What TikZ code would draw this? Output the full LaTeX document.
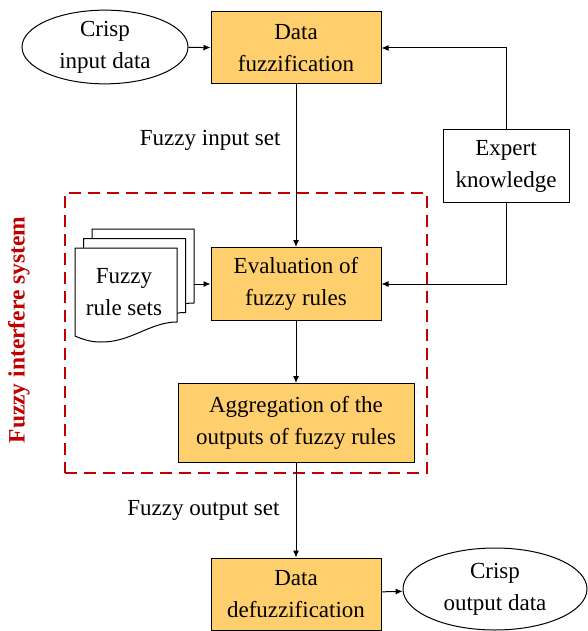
\documentclass[tikz,border=0pt]{standalone}
\usepackage{fontspec}
\setmainfont{Liberation Serif}
\usetikzlibrary{arrows.meta,positioning,calc,shapes.geometric}
\definecolor{boxfill}{HTML}{FFCF6E}
\definecolor{framered}{HTML}{C00000}

\begin{document}
\begin{tikzpicture}[
			x=1pt, y=-1pt,
			font=\fontsize{23}{32}\selectfont,
			block/.style={draw, line width=1pt, fill=boxfill, minimum width=170pt, minimum height=72pt, align=center, inner sep=2pt},
			oval/.style={draw, line width=1pt, ellipse, align=center, inner sep=0pt},
			plain/.style={draw, line width=1pt, fill=white, align=center, inner sep=2pt},
			sheet/.style={draw, line width=1pt, fill=white},
			frame/.style={draw=framered, line width=2.5pt, dash pattern=on 12pt off 7pt, minimum width=362pt, minimum height=280pt},
			line/.style={-{Latex[length=7pt,width=6pt]}, line width=1pt}
			]
			\useasboundingbox (0,0) rectangle (588,631);
			\node[frame] (fis) at (246,333) {};
			\node[rotate=90, text=framered, font=\fontsize{23.5}{32}\selectfont\bfseries] (fislabel) at (19,330) {Fuzzy interfere system};
			
			\node[block] (fuzz) at (296,48) {Data\\fuzzification};
			\node[oval, minimum width=166pt, minimum height=72pt] (crispin) at (105,47) {Crisp\\input data};
			\node[plain, minimum width=126pt, minimum height=72pt] (expert) at (506,166) {Expert\\knowledge};
			\node[block, minimum height=73pt] (eval) at (296,284) {Evaluation of\\fuzzy rules};
			\node[block, minimum width=236pt, minimum height=79pt] (agg) at (296,423) {Aggregation of the\\outputs of fuzzy rules};
			\node[block] (defuzz) at (296,594) {Data\\defuzzification};
			\node[oval, minimum width=184pt, minimum height=82pt] (crispout) at (495,589) {Crisp\\output data};
			
			% stack of rule sheets
			\foreach \dx/\dy in {17/-19, 8.5/-9.5, 0/0}
				\draw[sheet, shift={(\dx,\dy)}] (75,248) -- (177,248) -- (177,322)
					.. controls (150,322) and (130,343) .. (100,342)
					.. controls (90,342) and (82,339) .. (75,336) -- cycle;
			\node[align=center] (rules) at (124,292) {Fuzzy\\rule sets};
			\coordinate (rulesout) at (194,284);
			
			\node[anchor=east] (inset) at (284,140) {Fuzzy input set};
			\node[anchor=east] (outset) at (283,510) {Fuzzy output set};
			
			\draw[line] (crispin) -- (fuzz);
			\draw[line] (fuzz) -- (eval);
			\draw[line] (expert.north) |- (fuzz.east);
			\draw[line] (expert.south) |- (eval.east);
			\draw[line] (rulesout) -- (eval.west);
			\draw[line] (eval) -- (agg);
			\draw[line] (agg) -- (defuzz);
			\draw[line] (defuzz) -- (crispout);
		\end{tikzpicture}
\end{document}
